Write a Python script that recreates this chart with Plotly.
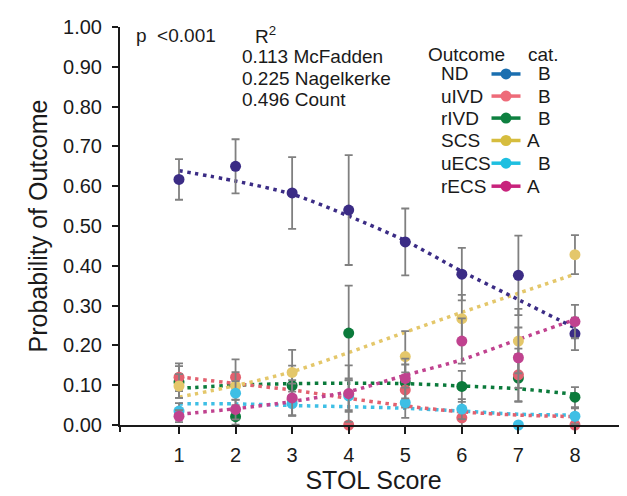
import plotly.graph_objects as go

# ---------------- data ----------------
stol_score = [1, 2, 3, 4, 5, 6, 7, 8]
y_ticks = [0.0, 0.1, 0.2, 0.3, 0.4, 0.5, 0.6, 0.7, 0.8, 0.9, 1.0]
y_tick_text = ["0.00", "0.10", "0.20", "0.30", "0.40", "0.50", "0.60", "0.70", "0.80", "0.90", "1.00"]

outcomes = ["ND", "uIVD", "rIVD", "SCS", "uECS", "rECS"]
categories = ["B", "B", "B", "A", "B", "A"]

# observed proportions
nd_obs   = [0.617, 0.650, 0.583, 0.540, 0.460, 0.379, 0.376, 0.229]
uivd_obs = [0.120, 0.120, 0.064, 0.000, 0.088, 0.018, 0.126, 0.000]
rivd_obs = [0.108, 0.021, 0.099, 0.231, 0.107, 0.097, 0.118, 0.070]
scs_obs  = [0.098, 0.098, 0.132, 0.077, 0.172, 0.267, 0.211, 0.428]
uecs_obs = [0.035, 0.080, 0.054, 0.073, 0.056, 0.040, 0.000, 0.022]
recs_obs = [0.022, 0.039, 0.068, 0.079, 0.117, 0.211, 0.169, 0.260]

# error bar half-widths
nd_err   = [0.051, 0.068, 0.090, 0.138, 0.084, 0.066, 0.100, 0.041]
uivd_err = [0.035, 0.045, 0.040, 0.000, 0.044, 0.020, 0.066, 0.000]
rivd_err = [0.040, 0.020, 0.050, 0.119, 0.045, 0.039, 0.060, 0.025]
scs_err  = [0.030, 0.035, 0.057, 0.040, 0.064, 0.060, 0.081, 0.049]
uecs_err = [0.020, 0.030, 0.030, 0.040, 0.038, 0.025, 0.000, 0.020]
recs_err = [0.015, 0.025, 0.045, 0.071, 0.050, 0.057, 0.076, 0.042]

# model-predicted probabilities (dotted curves)
nd_fit   = [0.639, 0.613, 0.580, 0.525, 0.463, 0.386, 0.315, 0.244]
uivd_fit = [0.121, 0.104, 0.088, 0.067, 0.048, 0.033, 0.025, 0.021]
rivd_fit = [0.092, 0.100, 0.104, 0.105, 0.104, 0.098, 0.091, 0.077]
scs_fit  = [0.070, 0.099, 0.134, 0.182, 0.233, 0.283, 0.331, 0.379]
uecs_fit = [0.053, 0.053, 0.049, 0.046, 0.042, 0.035, 0.027, 0.025]
recs_fit = [0.027, 0.041, 0.059, 0.084, 0.125, 0.164, 0.215, 0.265]

stats_p = "p\u00a0\u00a0<0.001"
r2_values = ["0.113", "0.225", "0.496"]
r2_names = ["McFadden", "Nagelkerke", "Count"]

# ---------------- styles ----------------
plot_colors = {"ND": "#3b2c85", "uIVD": "#e2616f", "rIVD": "#0b7a3b",
               "SCS": "#e4c76a", "uECS": "#3ebfe5", "rECS": "#c0428f"}
legend_colors = {"ND": "#1b6fb0", "uIVD": "#ee6b79", "rIVD": "#0e8040",
                 "SCS": "#d6bd3e", "uECS": "#1ebfe0", "rECS": "#c8237c"}

obs = {"ND": nd_obs, "uIVD": uivd_obs, "rIVD": rivd_obs, "SCS": scs_obs, "uECS": uecs_obs, "rECS": recs_obs}
err = {"ND": nd_err, "uIVD": uivd_err, "rIVD": rivd_err, "SCS": scs_err, "uECS": uecs_err, "rECS": recs_err}
fit = {"ND": nd_fit, "uIVD": uivd_fit, "rIVD": rivd_fit, "SCS": scs_fit, "uECS": uecs_fit, "rECS": recs_fit}

FONT = "Liberation Sans, Arial, Helvetica, sans-serif"
OFF = 8  # page body margin
W, H = 627, 496
# plot area in screenshot pixels: x 120..627, y 21.7..425
SX0, SX1, SY0, SY1 = 120, 627, 21.7, 425
L = SX0 - OFF
T = SY0 - OFF
R = W - (SX1 - OFF)
B = H - (SY1 - OFF)
PW, PH = SX1 - SX0, SY1 - SY0

def fx(px):
    return (px - SX0) / PW

def fy(py):
    return (SY1 - py) / PH

fig = go.Figure()

# fitted dotted curves
for name in ["rIVD", "uECS", "uIVD", "rECS", "SCS", "ND"]:
    fig.add_trace(go.Scatter(
        x=stol_score, y=fit[name], mode="lines",
        line=dict(color=plot_colors[name], width=3.5, dash="3.5px,4.5px", shape="spline", smoothing=0.8),
        showlegend=False, hoverinfo="skip", cliponaxis=False))

# observed points with error bars
for name in ["rIVD", "ND", "uIVD", "SCS", "uECS", "rECS"]:
    fig.add_trace(go.Scatter(
        x=stol_score, y=obs[name], mode="markers",
        marker=dict(color=plot_colors[name], size=11, line=dict(width=0)),
        error_y=dict(type="data", array=err[name], visible=True,
                     color="#808080", thickness=1.8, width=4),
        showlegend=False, name=name, cliponaxis=False))

annotations = []
shapes = []

def add_text(text, px, py, size=19, xanchor="left"):
    annotations.append(dict(text=text, x=fx(px), y=fy(py), xref="paper", yref="paper",
                            xanchor=xanchor, yanchor="middle", showarrow=False,
                            font=dict(family=FONT, size=size, color="#1a1a1a")))

# statistics text
add_text(stats_p, 134, 30)
add_text("R<sup>2</sup>", 253, 30)
for i, (v, n) in enumerate(zip(r2_values, r2_names)):
    add_text(v + " " + n, 240, 51.7 + i * 21.7)

# custom legend
add_text("Outcome", 426, 49.7)
add_text("cat.", 526, 49.7)
row_y = [69.3, 91.7, 114.0, 136.7, 159.7, 183.0]
for name, cat, ry in zip(outcomes, categories, row_y):
    add_text(name, 439, ry)
    shapes.append(dict(type="line", xref="paper", yref="paper",
                       x0=fx(491.5), x1=fx(520.5), y0=fy(ry), y1=fy(ry),
                       line=dict(color=legend_colors[name], width=3.5)))
    shapes.append(dict(type="circle", xref="paper", yref="paper",
                       xsizemode="pixel", ysizemode="pixel",
                       xanchor=fx(506), yanchor=fy(ry),
                       x0=-5.5, x1=5.5, y0=-5.5, y1=5.5,
                       fillcolor=legend_colors[name], line=dict(width=0)))
    add_text(cat, 544 if cat == "B" else 533.5, ry, xanchor="center")

# small extension of the y-axis line below the x-axis (crossing at origin)
shapes.append(dict(type="line", xref="paper", yref="paper",
                   x0=0, x1=0, y0=fy(425), y1=fy(432),
                   line=dict(color="#1a1a1a", width=2)))

fig.update_layout(
    width=W, height=H,
    margin=dict(l=L, r=R, t=T, b=B, pad=0),
    plot_bgcolor="white", paper_bgcolor="white",
    font=dict(family=FONT, size=20, color="#1a1a1a"),
    showlegend=False,
    annotations=annotations,
    shapes=shapes,
    xaxis=dict(range=[-0.043, 8.92], tickvals=stol_score, ticktext=[str(v) for v in stol_score],
               showline=True, linecolor="#1a1a1a", linewidth=2, ticks="outside", ticklen=7,
               tickwidth=2, tickcolor="#1a1a1a", showgrid=False, zeroline=False,
               tickfont=dict(size=20), ticklabelstandoff=4,
               title=dict(text="STOL Score", font=dict(size=25), standoff=6)),
    yaxis=dict(range=[0, 1], tickvals=y_ticks, ticktext=y_tick_text,
               showline=True, linecolor="#1a1a1a", linewidth=2, ticks="outside", ticklen=6,
               tickwidth=2, tickcolor="#1a1a1a", showgrid=False, zeroline=False,
               tickfont=dict(size=20), ticklabelstandoff=6,
               title=dict(text="Probability of Outcome", font=dict(size=25), standoff=8)),
)

fig.write_html("out.html")
